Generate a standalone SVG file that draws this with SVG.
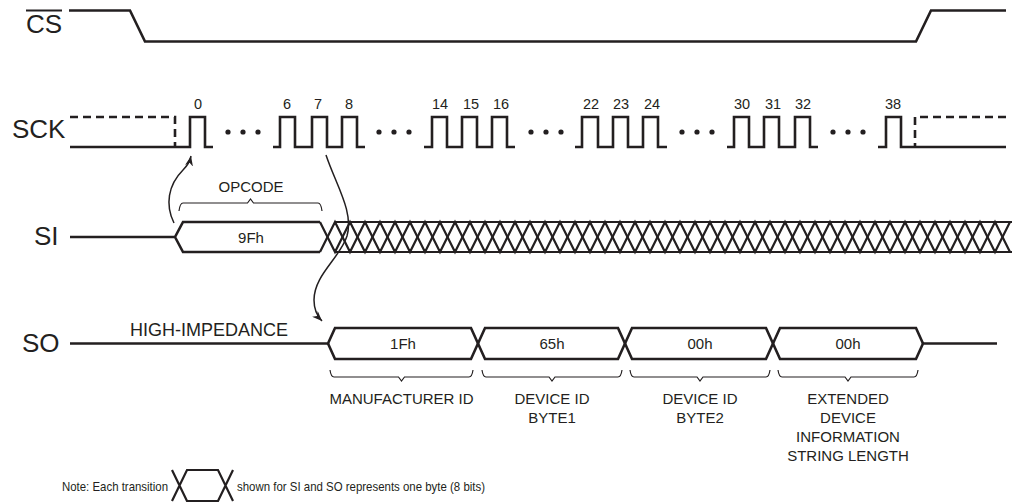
<svg xmlns="http://www.w3.org/2000/svg" width="1012" height="502" viewBox="0 0 1012 502">
<style>
text{font-family:"Liberation Sans",Arial,sans-serif;fill:#231f20}
.sig{font-size:26px}
.num{font-size:14.5px;text-anchor:middle}
.lbl{font-size:15px;text-anchor:middle}
.w{fill:none;stroke:#231f20;stroke-width:2.6;stroke-linejoin:miter}
.h{fill:none;stroke:#231f20;stroke-width:2.2}
.d{fill:none;stroke:#231f20;stroke-width:2.6;stroke-dasharray:8 5}
.br{fill:none;stroke:#231f20;stroke-width:1.2}
.ar{fill:none;stroke:#231f20;stroke-width:1.5}
</style>
<defs>
<marker id="ah" viewBox="0 0 10 8" refX="10" refY="4" markerWidth="10" markerHeight="8" markerUnits="userSpaceOnUse" orient="auto">
<path d="M0,0 L10,4 L0,8 L3,4 Z" fill="#231f20"/>
</marker>
</defs>
<rect width="1012" height="502" fill="#fff"/>
<g id="cs">
<text class="sig" x="26" y="33">CS</text>
<line x1="26" y1="10.5" x2="62" y2="10.5" stroke="#231f20" stroke-width="2"/>
<path class="w" d="M69,10.5 H130 L145,41.5 H916 L931,10.5 H1006"/>
</g>
<g id="sck">
<text class="sig" x="12" y="138">SCK</text>
<path class="d" d="M70,117 H175 V147"/>
<path class="d" d="M1006,117 H915 V147"/>
<path class="w" d="M70,147 H190 V117 H205 V147 H213"/>
<path class="w" d="M273,147 H280 V117 H295 V147 H312 V117 H327 V147 H342 V117 H357 V147 H365"/>
<path class="w" d="M424,147 H432 V117 H447 V147 H462 V117 H477 V147 H492 V117 H507 V147 H515"/>
<path class="w" d="M575,147 H582 V117 H598 V147 H613 V117 H628 V147 H643 V117 H658 V147 H667"/>
<path class="w" d="M727,147 H734 V117 H749 V147 H764 V117 H779 V147 H795 V117 H810 V147 H818"/>
<path class="w" d="M878,147 H886 V117 H901 V147 H1006"/>
<g fill="#231f20">
<circle cx="228" cy="132" r="2.6"/><circle cx="243" cy="132" r="2.6"/><circle cx="258" cy="132" r="2.6"/>
<circle cx="379" cy="132" r="2.6"/><circle cx="394" cy="132" r="2.6"/><circle cx="409" cy="132" r="2.6"/>
<circle cx="531" cy="132" r="2.6"/><circle cx="546" cy="132" r="2.6"/><circle cx="561" cy="132" r="2.6"/>
<circle cx="682" cy="132" r="2.6"/><circle cx="697" cy="132" r="2.6"/><circle cx="712" cy="132" r="2.6"/>
<circle cx="833" cy="132" r="2.6"/><circle cx="848" cy="132" r="2.6"/><circle cx="863" cy="132" r="2.6"/>
</g>
<text class="num" x="198" y="109">0</text>
<text class="num" x="287" y="109">6</text>
<text class="num" x="318" y="109">7</text>
<text class="num" x="349" y="109">8</text>
<text class="num" x="440" y="109">14</text>
<text class="num" x="471" y="109">15</text>
<text class="num" x="501" y="109">16</text>
<text class="num" x="591" y="109">22</text>
<text class="num" x="621" y="109">23</text>
<text class="num" x="652" y="109">24</text>
<text class="num" x="742" y="109">30</text>
<text class="num" x="773" y="109">31</text>
<text class="num" x="803" y="109">32</text>
<text class="num" x="893" y="109">38</text>
</g>
<g id="si">
<text class="sig" x="34" y="245">SI</text>
<path class="w" d="M70,237 H175 L183,222 H320 M175,237 L183,252 H320"/>
<path class="h" d="M320,222 L335,252 L350,222 L365,252 L380,222 L395,252 L410,222 L425,252 L440,222 L455,252 L470,222 L485,252 L500,222 L515,252 L530,222 L545,252 L560,222 L575,252 L590,222 L605,252 L620,222 L635,252 L650,222 L665,252 L680,222 L695,252 L710,222 L725,252 L740,222 L755,252 L770,222 L785,252 L800,222 L815,252 L830,222 L845,252 L860,222 L875,252 L890,222 L905,252 L920,222 L935,252 L950,222 L965,252 L980,222 L995,252 L1010,222"/>
<path class="h" d="M320,252 L335,222 L350,252 L365,222 L380,252 L395,222 L410,252 L425,222 L440,252 L455,222 L470,252 L485,222 L500,252 L515,222 L530,252 L545,222 L560,252 L575,222 L590,252 L605,222 L620,252 L635,222 L650,252 L665,222 L680,252 L695,222 L710,252 L725,222 L740,252 L755,222 L770,252 L785,222 L800,252 L815,222 L830,252 L845,222 L860,252 L875,222 L890,252 L905,222 L920,252 L935,222 L950,252 L965,222 L980,252 L995,222 L1010,252"/>
<path class="h" d="M335,222 H1012 M335,252 H1012"/>
<text class="lbl" x="251" y="243">9Fh</text>
<path class="br" d="M179,211 Q180,203 183,203 H247.5 L250.5,199 L253.5,203 H318 Q321,203 322,211"/>
<text class="lbl" x="251" y="192">OPCODE</text>
</g>
<g id="so">
<text class="sig" x="22" y="352">SO</text>
<text x="130" y="336" font-size="18">HIGH-IMPEDANCE</text>
<path class="w" d="M70,343.5 H328 L335,328 H471 L485,359 H618 L632,328 H766 L780,359 H916 L923,343.5 H997"/>
<path class="w" d="M328,343.5 L335,359 H471 L485,328 H618 L632,359 H766 L780,328 H916 L923,343.5"/>
<text class="lbl" x="403" y="349">1Fh</text>
<text class="lbl" x="552" y="349">65h</text>
<text class="lbl" x="700" y="349">00h</text>
<text class="lbl" x="848" y="349">00h</text>
<path class="br" d="M330,370 Q331,377 334,377 H398.5 L401.5,381 L404.5,377 H469 Q472,377 473,370"/>
<path class="br" d="M482,370 Q483,377 486,377 H549 L552,381 L555,377 H618 Q621,377 622,370"/>
<path class="br" d="M630,370 Q631,377 634,377 H697 L700,381 L703,377 H766 Q769,377 770,370"/>
<path class="br" d="M778,370 Q779,377 782,377 H845 L848,381 L851,377 H914 Q917,377 918,370"/>
<text class="lbl" x="401.5" y="404">MANUFACTURER ID</text>
<text class="lbl" x="552" y="404">DEVICE ID</text>
<text class="lbl" x="552" y="422.5">BYTE1</text>
<text class="lbl" x="700" y="404">DEVICE ID</text>
<text class="lbl" x="700" y="422.5">BYTE2</text>
<text class="lbl" x="848" y="404">EXTENDED</text>
<text class="lbl" x="848" y="423">DEVICE</text>
<text class="lbl" x="848" y="442">INFORMATION</text>
<text class="lbl" x="848" y="461">STRING LENGTH</text>
</g>
<g id="connectors">
<path class="ar" d="M174,223 C165,205 168,185 183,170 C188,165 190,161 191,156" marker-end="url(#ah)"/>
<path class="ar" d="M326,155 C336,185 354,212 347,236 C340,258 314,275 314,300 C314,310 317,316 322,321" marker-end="url(#ah)"/>
</g>
<g id="note">
<text x="62" y="491" font-size="13" textLength="106" lengthAdjust="spacingAndGlyphs">Note: Each transition</text>
<path class="h" d="M172,470 L187,501 H218 L233,470 M172,501 L187,470 H218 L233,501"/>
<text x="237" y="491" font-size="13" textLength="248" lengthAdjust="spacingAndGlyphs">shown for SI and SO represents one byte (8 bits)</text>
</g>
</svg>
